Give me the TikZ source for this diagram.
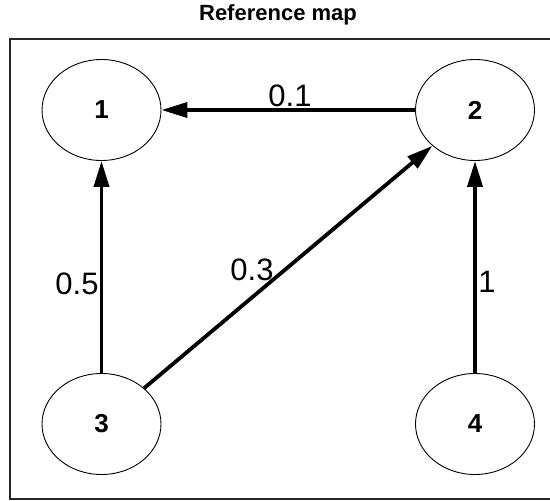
\documentclass[tikz,border=0pt]{standalone}
\usepackage{fontspec}
\setmainfont{Liberation Sans}
\usetikzlibrary{arrows.meta,shapes.geometric}
\begin{document}
\begin{tikzpicture}[x=1pt,y=-1pt,
  state/.style={draw=black,line width=0.9pt,ellipse,minimum width=119pt,minimum height=101pt,inner sep=0pt,font=\fontsize{26}{26}\selectfont\bfseries},
  wlabel/.style={inner sep=0pt,font=\fontsize{31}{31}\selectfont},
  link/.style={line width=3.8pt,-{Triangle[length=26pt,width=15pt]}}]
\useasboundingbox (0,0) rectangle (550,501);
\clip (0,0) rectangle (550,501);
\fill[white] (0,0) rectangle (550,501);
\node[inner sep=0pt,font=\fontsize{22}{22}\selectfont\bfseries] (title) at (278,15) {\vphantom{R}Reference map};
\draw[line width=1.6pt,draw=black!85] (10,39) rectangle (570,499);
\node[state] (n1) at (101.5,110) {1};
\node[state] (n2) at (475,110) {2};
\node[state] (n3) at (101.5,424) {3};
\node[state] (n4) at (475,424) {4};
\draw[link] (n2) -- (n1);
\draw[link] (n3) -- (n1);
\draw[link] (n3) -- (n2);
\draw[link] (n4) -- (n2);
\node[wlabel] (l01) at (290,96) {0.1};
\node[wlabel] (l05) at (77,283.5) {0.5};
\node[wlabel] (l03) at (252,270) {0.3};
\node[wlabel] (l1) at (487,281.5) {1};
\end{tikzpicture}
\end{document}
